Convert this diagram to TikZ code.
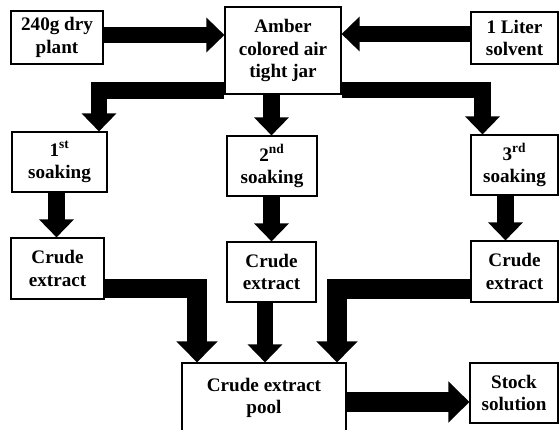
\documentclass[tikz,border=0pt]{standalone}
\usepackage{fontspec}
\setmainfont{Liberation Serif}
\usetikzlibrary{arrows.meta, calc}

\begin{document}
\begin{tikzpicture}[
    x=0.025cm, y=-0.025cm,
    box/.style={draw, fill=white, line width=0.8pt, align=center, inner sep=0pt,
        font=\fontsize{13.6}{15.8}\selectfont\bfseries},
    flow/.style={line width=11.4pt, -{Triangle[length=12.8pt,width=24pt]}},
    wideflow/.style={line width=14pt, -{Triangle[length=15pt,width=28.5pt]}}
]

\useasboundingbox (0,0) rectangle (560,429);

% =========================
% BOXES
% =========================
\node[box, minimum width=2.3cm, minimum height=1.325cm] (plant) at (57,37.5) {240g dry\\plant};
\node[box, minimum width=2.9cm, minimum height=2.175cm] (jar) at (283,50.5) {Amber\\colored air\\tight jar};
\node[box, minimum width=2.175cm, minimum height=1.3cm] (solvent) at (514.5,38) {1 Liter\\solvent};

% soakings
\node[box, minimum width=2.375cm, minimum height=1.5cm] (soak1) at (59.5,162) {1\textsuperscript{st}\\soaking};
\node[box, minimum width=2.25cm, minimum height=1.5cm] (soak2) at (272,166) {2\textsuperscript{nd}\\soaking};
\node[box, minimum width=2.175cm, minimum height=1.5cm] (soak3) at (514.5,165) {3\textsuperscript{rd}\\soaking};

% crude extracts
\node[box, minimum width=2.325cm, minimum height=1.525cm] (crude1) at (57.5,268.5) {Crude\\extract};
\node[box, minimum width=2.225cm, minimum height=1.5cm] (crude2) at (271.5,272) {Crude\\extract};
\node[box, minimum width=2.175cm, minimum height=1.525cm] (crude3) at (514.5,271.5) {Crude\\extract};

% pool and stock
\node[box, minimum width=4.1cm, minimum height=1.75cm] (pool) at (264,398) {Crude extract\\pool};
\node[box, minimum width=2.2cm, minimum height=1.5cm] (stock) at (514,393) {Stock\\solution};

% =========================
% ARROWS
% =========================
\draw[flow] (plant.east |- 0,35) -- (jar.west |- 0,35);
\draw[flow] (solvent.west |- 0,34) -- (jar.east |- 0,34);

% jar to soakings
\draw[flow] (jar.west |- 0,90.5) -| (soak1.north -| 99,0);
\draw[flow] (jar.south -| 271.5,0) -- (soak2.north -| 271.5,0);
\draw[flow] (jar.east |- 0,90) -| (soak3.north -| 482.5,0);

% soakings to extracts
\draw[flow] (soak1.south -| 56.5,0) -- (crude1.north -| 56.5,0);
\draw[flow] (soak2.south -| 271.5,0) -- (crude2.north -| 271.5,0);
\draw[flow] (soak3.south -| 505.5,0) -- (crude3.north -| 505.5,0);

% extracts to pool
\draw[wideflow] (crude1.east |- 0,288.5) -| (pool.north -| 197,0);
\draw[flow] (crude2.south -| 265,0) -- (pool.north -| 265,0);
\draw[wideflow] (crude3.west |- 0,289) -| (pool.north -| 337,0);

% pool to stock
\draw[wideflow] (pool.east |- 0,402) -- (stock.west |- 0,402);
\end{tikzpicture}
\end{document}
